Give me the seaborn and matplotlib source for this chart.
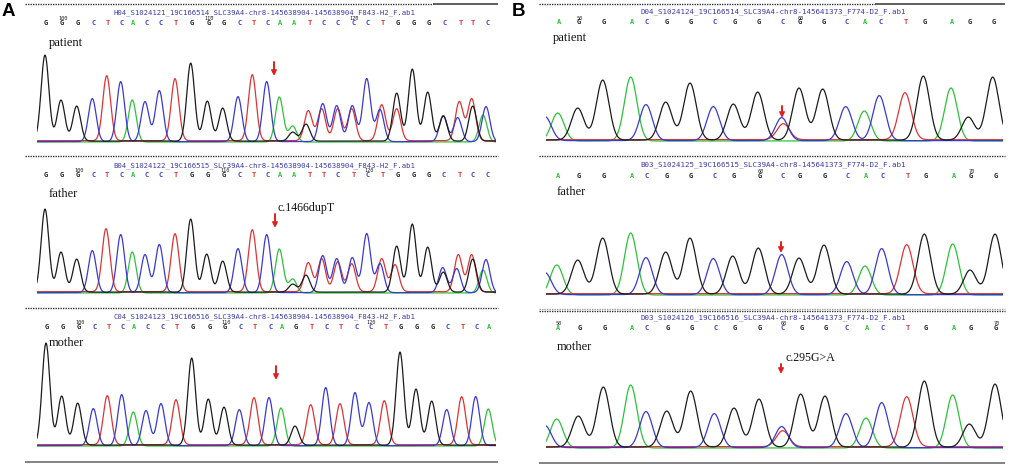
import numpy as np
import pandas as pd
import matplotlib
matplotlib.use("Agg")
import matplotlib.pyplot as plt
import seaborn as sns

# ---------------- data ----------------
# Panel A (c.1466dupT) – peak positions (scan units), heights, channel letters
a_pat_pos = [45, 61, 76.7, 92.3, 106.7, 120.7, 132.3, 145, 159.3, 175, 190.7, 207.3, 222.7, 238, 252.3,
             266.7, 279.3, 292.7, 308.3, 322.7, 336.7, 352.3, 366.7, 381.7, 396.7, 412.3, 427.7, 443.3,
             459.3, 471.7, 486]
a_pat_h = [86, 41, 35, 43, 65, 60, 42, 40, 51, 62, 78, 40, 33, 45, 66, 60, 45, 16, 30, 38, 36, 36, 63, 36,
           48, 72, 49, 26, 39, 42, 35]
a_pat_ch = "GGGCTCACCTGGGCTCAATCCCCTGGGCTTC"
a_pat_sec_pos = [292.7, 306, 321.7, 337.7, 351.7, 380, 396.7, 443.3, 457.7, 472.7, 483]
a_pat_sec_h = [9, 17, 32, 32, 32, 32, 32, 25, 24, 35, 27]
a_pat_sec_ch = "GGTTTCTGCGA"
a_pat_calls = "GGGCTCACCTGGGCTCAATCCCCTGGGCTTC"
a_pat_nums = {1: "100", 11: "110", 21: "120"}

a_fat_pos = [45, 61, 76.7, 92.3, 106, 120.7, 132.3, 145, 159.3, 175, 190.7, 206.7, 222.7, 238, 252.3,
             266.7, 279.3, 292.7, 308.3, 322.7, 336.7, 352.3, 366.7, 381.7, 396.7, 412.3, 427.7, 442.7,
             458.3, 471.7, 486]
a_fat_h = [83, 40, 33, 42, 63, 58, 41, 38, 48, 58, 73, 38, 31, 44, 62, 58, 44, 14, 29, 37, 34, 35, 59, 33,
           46, 68, 45, 25, 37, 37, 33]
a_fat_ch = "GGGCTCACCTGGGCTCAATCCCCTGGGCTTC"
a_fat_sec_pos = [292.7, 306, 321.7, 337.7, 351.7, 380, 395, 443.3, 456.7, 472.7, 483]
a_fat_sec_h = [8, 17, 33, 30, 28, 29, 27, 20, 24, 33, 23]
a_fat_sec_ch = "GGTTTCTGCGA"
a_fat_calls = "GGGCTCACCTGGGCTCAATTCTCTGGGCTCC"
a_fat_nums = {2: "100", 12: "110", 22: "120"}

a_mot_pos = [46, 61.7, 77.7, 93.3, 107.3, 121.7, 133.3, 146, 161, 176, 191.7, 208.3, 224, 239.3, 254,
             269, 281, 295, 310.7, 325.7, 340, 355, 369, 384.3, 400, 416, 431.7, 446.7, 461.7, 475.7, 488.3]
a_mot_h = [102, 49, 42, 37, 49, 51, 34, 35, 42, 45, 87, 46, 38, 36, 47, 48, 38, 19, 40, 58, 41, 53, 43, 44,
           93, 56, 44, 36, 48, 49, 37]
a_mot_ch = "GGGCTCACCTGGGCTCAGTCTCCTGGGCTCA"
a_mot_calls = "GGGCTCACCTGGGCTCAGTCTCCTGGGCTCA"
a_mot_nums = {2: "100", 12: "110", 22: "120"}

# Panel B (c.295G>A)
b_pat_pos = [545, 557.7, 577.7, 602.7, 630.7, 646, 665.7, 690, 713.3, 733.3, 757.7, 781.7, 799, 822.7,
             845.7, 864.3, 879.3, 905, 923.3, 951, 968.3, 992.7]
b_pat_h = [24, 28, 32, 60, 64, 36, 38, 57, 34, 36, 48, 23, 52, 51, 34, 30, 45, 47, 64, 53, 23, 63]
b_pat_ch = "CAGGACGGCGGCGGCACTGAGG"
b_pat_sec_pos = [783.3]
b_pat_sec_h = [16]
b_pat_sec_ch = "T"
b_pat_calls = "AGGACGGCGGCGGCACTGAGG"
b_pat_nums = {1: "50", 11: "60"}

b_fat_pos = [545, 556.7, 577.7, 602.7, 630.7, 646, 665.7, 690, 713.3, 732.7, 758.3, 781.7, 799, 824,
             846.7, 865, 881.7, 906.7, 924.3, 952.7, 970, 995]
b_fat_h = [22, 30, 34, 56, 62, 37, 42, 56, 36, 38, 46, 40, 36, 49, 33, 29, 46, 49, 60, 51, 24, 60]
b_fat_ch = "CAGGACGGCGGCGGCACTGAGG"
b_fat_calls = "AGGACGGCGGCGGCACTGAGG"
b_fat_nums = {9: "60", 19: "70"}

b_mot_pos = [545, 556.7, 578.3, 603.3, 630.7, 646, 666.7, 690.7, 714.3, 734, 759, 781.7, 800.7, 825,
             846, 866, 881.7, 906.7, 924.3, 952.7, 969.3, 995]
b_mot_h = [22, 29, 31, 60, 63, 36, 36, 56, 34, 39, 48, 21, 53, 51, 34, 30, 45, 50, 66, 53, 23, 63]
b_mot_ch = "CAGGACGGCGGCGGCACTGAGG"
b_mot_sec_pos = [782.7]
b_mot_sec_h = [16]
b_mot_sec_ch = "T"
b_mot_calls = "AGGACGGCGGCGGCACTGAGG"
b_mot_nums = {0: "50", 10: "60", 20: "70"}

headers = {
    "a_pat": "H04_S1024121_19C166514_SLC39A4-chr8-145638904-145638904_F843-H2_F.ab1",
    "a_fat": "B04_S1024122_19C166515_SLC39A4-chr8-145638904-145638904_F843-H2_F.ab1",
    "a_mot": "C04_S1024123_19C166516_SLC39A4-chr8-145638904-145638904_F843-H2_F.ab1",
    "b_pat": "D04_S1024124_19C166514_SLC39A4-chr8-145641373_F774-D2_F.ab1",
    "b_fat": "B03_S1024125_19C166515_SLC39A4-chr8-145641373_F774-D2_F.ab1",
    "b_mot": "D03_S1024126_19C166516_SLC39A4-chr8-145641373_F774-D2_F.ab1",
}
row_labels = ["patient", "father", "mother"]
variant_labels = {"A": "c.1466dupT", "B": "c.295G>A"}

# ---------------- styling ----------------
sns.set_style("white")
plt.rcParams["font.family"] = ["DejaVu Sans"]

PAL = {"G": "#1c1c1c", "C": "#3a3ad2", "T": "#dc3535", "A": "#2ec23a"}
BASE_OFF = {"G": 0.9, "C": 0.4, "T": 1.3, "A": 0.0}

W, H = 1013, 467
fig = plt.figure(figsize=(W / 100, H / 100), dpi=100)
bg = fig.add_axes([0, 0, 1, 1])
bg.set_xlim(0, W)
bg.set_ylim(H, 0)
bg.axis("off")


def trace_axes(x0, x1, yb, top=112, bot=3):
    ax = fig.add_axes([x0 / W, 1 - (yb + bot) / H, (x1 - x0) / W, (top + bot) / H])
    return ax


def draw_trace(ax, pos, hts, chans, sec, sigma, x0, x1, top=112, bot=3):
    xs = np.linspace(x0 - 15, x1 + 15, 2500)
    peaks = list(zip(pos, hts, chans)) + list(zip(*sec))
    frames = []
    for ch in "GCTA":
        y = np.full_like(xs, BASE_OFF[ch])
        for p, h, c in peaks:
            if c == ch:
                y = y + h * np.exp(-0.5 * ((xs - p) / sigma) ** 2)
        frames.append(pd.DataFrame({"x": xs, "signal": y, "channel": ch}))
    df = pd.concat(frames, ignore_index=True)
    sns.lineplot(data=df, x="x", y="signal", hue="channel", palette=PAL,
                 hue_order=["A", "T", "C", "G"], estimator=None, sort=False,
                 legend=False, lw=0.9, ax=ax)
    ax.set_xlim(x0, x1)
    ax.set_ylim(-bot, top)
    ax.axis("off")


def draw_calls(pos, calls, nums, y, dx=1.0):
    for i, b in enumerate(calls):
        bg.text(pos[i] + dx, y, b, ha="center", va="center", fontsize=5.0,
                family="DejaVu Sans Mono", fontweight="bold", color=PAL[b])
        if i in nums:
            bg.text(pos[i] + dx + 1, y - 4.2, nums[i], ha="center", va="center",
                    fontsize=3.8, family="DejaVu Sans Mono", color="#222222")


def hline(x0, x1, y, style="dot", color="#333333", lw=1.0):
    ls = (0, (1.0, 0.8)) if style == "dot" else "-"
    bg.plot([x0, x1], [y, y], ls=ls, color=color, lw=lw, solid_capstyle="butt")


def arrow(x, y0, y1):
    bg.annotate("", xy=(x, y1), xytext=(x, y0),
                arrowprops=dict(arrowstyle="->", color="#e01e1e", lw=1.4,
                                mutation_scale=7, shrinkA=0, shrinkB=0))


serif = "Liberation Serif"

# ---------------- panel A ----------------
AX0, AX1 = 37, 496
rowsA = [
    ("a_pat", a_pat_pos, a_pat_h, a_pat_ch, (a_pat_sec_pos, a_pat_sec_h, a_pat_sec_ch), a_pat_calls, a_pat_nums,
     142, 12.5, 23, 43),
    ("a_fat", a_fat_pos, a_fat_h, a_fat_ch, (a_fat_sec_pos, a_fat_sec_h, a_fat_sec_ch), a_fat_calls, a_fat_nums,
     293, 165.5, 175, 194),
    ("a_mot", a_mot_pos, a_mot_h, a_mot_ch, ([], [], ""), a_mot_calls, a_mot_nums,
     446, 317, 327, 343.5),
]
for k, (key, pos, hts, ch, sec, calls, nums, yb, yh, yc, yl) in enumerate(rowsA):
    ax = trace_axes(AX0, AX1, yb)
    draw_trace(ax, pos, hts, ch, sec, 3.9, AX0, AX1)
    bg.text(264, yh, headers[key], ha="center", va="center", fontsize=5.2,
            family="DejaVu Sans Mono", color="#3a3aa8")
    draw_calls(pos, calls, nums, yc, dx=1.2)
    bg.text(49, yl, row_labels[k], ha="left", va="center", fontsize=9, family=serif, color="#111111")

hline(25, 433, 4)
hline(433, 498, 4, style="solid", color="#333333", lw=1.1)
hline(25, 498, 156)
hline(25, 498, 308)
hline(25, 498, 462, style="solid", color="#7a7a7a", lw=1.3)
arrow(274, 62, 76)
arrow(275, 214, 228)
arrow(276, 366, 380)
bg.text(278, 208, variant_labels["A"], ha="left", va="center", fontsize=8.6, family=serif, color="#111111")
bg.text(2, 12, "A", ha="left", va="center", fontsize=13.5, fontweight="bold",
        family="Liberation Sans", color="#000000")

# ---------------- panel B ----------------
BX0, BX1 = 546, 1003
rowsB = [
    ("b_pat", b_pat_pos, b_pat_h, b_pat_ch, (b_pat_sec_pos, b_pat_sec_h, b_pat_sec_ch), b_pat_calls, b_pat_nums,
     141, 12, 22.5, 38),
    ("b_fat", b_fat_pos, b_fat_h, b_fat_ch, ([], [], ""), b_fat_calls, b_fat_nums,
     295, 165, 175.5, 192),
    ("b_mot", b_mot_pos, b_mot_h, b_mot_ch, (b_mot_sec_pos, b_mot_sec_h, b_mot_sec_ch), b_mot_calls, b_mot_nums,
     448, 318, 327.5, 347),
]
for k, (key, pos, hts, ch, sec, calls, nums, yb, yh, yc, yl) in enumerate(rowsB):
    ax = trace_axes(BX0, BX1, yb)
    draw_trace(ax, pos, hts, ch, sec, 6.3, BX0, BX1)
    bg.text(773, yh, headers[key], ha="center", va="center", fontsize=5.4,
            family="DejaVu Sans Mono", color="#3a3aa8")
    draw_calls(pos[1:], calls, nums, yc, dx=1.0)
    bg.text(553 if k == 0 else 557, yl, row_labels[k], ha="left", va="center", fontsize=9,
            family=serif, color="#111111")

hline(539, 875, 4)
hline(875, 1005, 4, style="solid", color="#333333", lw=1.1)
hline(539, 1005, 156)
hline(539, 1005, 309, color="#9a9a9a")
hline(539, 1005, 311)
hline(539, 1005, 463, style="solid", color="#7a7a7a", lw=1.3)
arrow(782, 106, 118)
arrow(781, 242, 253)
arrow(781, 364, 374)
bg.text(785, 358, variant_labels["B"], ha="left", va="center", fontsize=8.6, family=serif, color="#111111")
bg.text(512, 12, "B", ha="left", va="center", fontsize=13.5, fontweight="bold",
        family="Liberation Sans", color="#000000")

fig.savefig("out.png", dpi=100)
